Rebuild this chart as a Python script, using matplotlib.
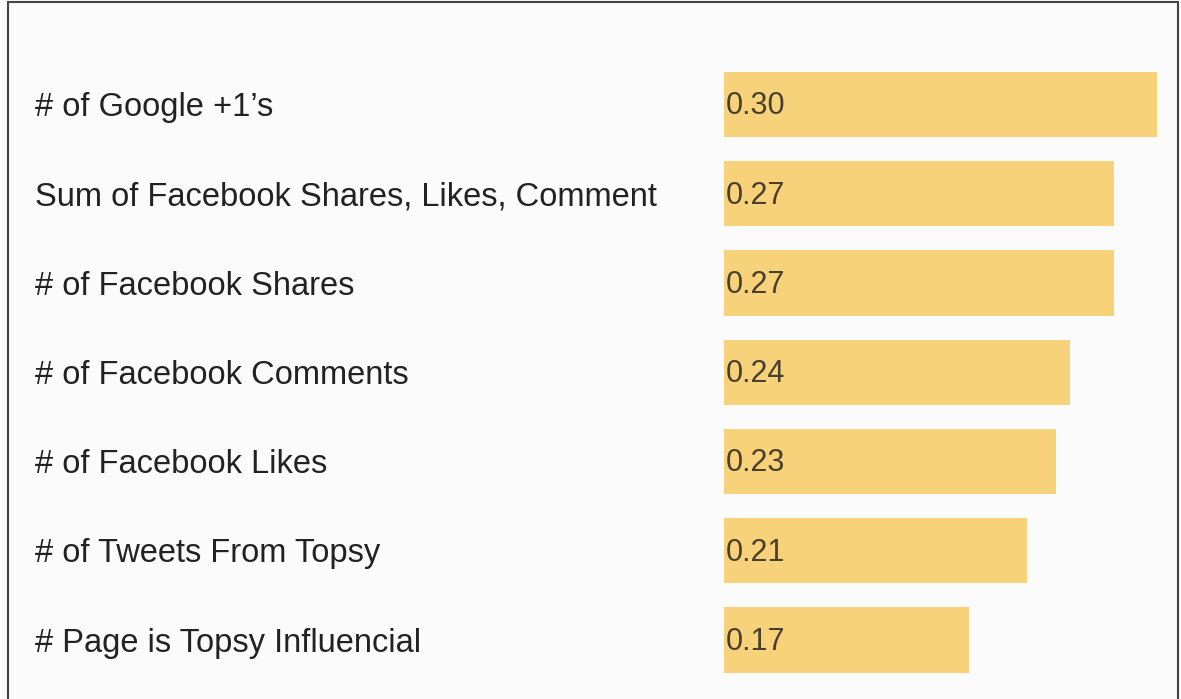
import matplotlib.pyplot as plt
import matplotlib.patches as pch
import matplotlib.transforms as mtrans
from matplotlib import font_manager

labels = [
    '# of Google +1\u2019s',
    'Sum of Facebook Shares, Likes, Comment',
    '# of Facebook Shares',
    '# of Facebook Comments',
    '# of Facebook Likes',
    '# of Tweets From Topsy',
    '# Page is Topsy Influencial',
]
values = [0.30, 0.27, 0.27, 0.24, 0.23, 0.21, 0.17]
value_text = ['0.30', '0.27', '0.27', '0.24', '0.23', '0.21', '0.17']

# pick a narrow face for the numbers if there is one
names = {f.name for f in font_manager.fontManager.ttflist}
narrow = [n for n in ['Liberation Sans Narrow', 'DejaVu Sans Condensed'] if n in names]
num_family = narrow + ['Liberation Sans', 'DejaVu Sans']

W, H = 1181, 699
fig = plt.figure(figsize=(W / 100, H / 100), dpi=100)
fig.patch.set_facecolor('#fbfbfb')

# axes spans from bar origin to right edge
ax = fig.add_axes([724 / W, 0, 1 - 724 / W, 1])
ax.set_facecolor('none')
ypos = list(range(len(values)))
ax.barh(ypos, values, height=0.73, color='#f7d27a', edgecolor='none')
ax.set_xlim(0, 457 / 1443)
ax.set_ylim(6 + 59 / 89.25, -104.5 / 89.25)
ax.axis('off')

for i, v in enumerate(value_text):
    ax.text(0.0015, i + 0.02, v, va='center', ha='left', fontsize=22,
            family=num_family, fontstretch='condensed', color='#4a3f2c')

lbl_tr = mtrans.blended_transform_factory(fig.transFigure, ax.transData)
for i, s in enumerate(labels):
    ax.text(35 / W, i + 0.035, s, transform=lbl_tr, va='center', ha='left',
            fontsize=23.5, family=['Liberation Sans', 'DejaVu Sans'],
            color='#222222')

# frame lines on the left, top and right
fig.add_artist(pch.Rectangle((8 / W, -0.1), (1178 - 8) / W, 1.1 - 2 / H,
                             transform=fig.transFigure, fill=False,
                             edgecolor='#444444', linewidth=1.5))

fig.savefig('out.png', dpi=100, facecolor=fig.get_facecolor())
